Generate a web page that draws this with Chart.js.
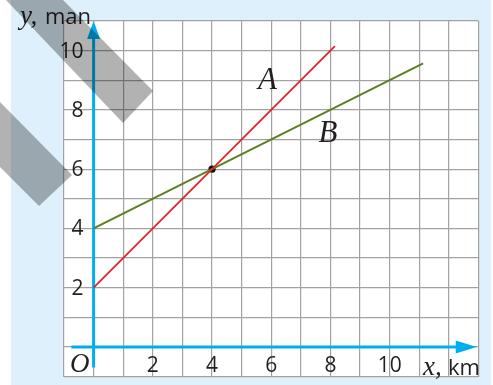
<!DOCTYPE html>
<html>
<head>
<meta charset="utf-8">
<script src="https://cdn.jsdelivr.net/npm/chart.js@4/dist/chart.umd.min.js"></script>
<style>
html,body{margin:0;padding:0;background:#fff;}
#wrap{width:493px;height:385px;position:relative;}
</style>
</head>
<body>
<div id="wrap"><canvas id="c" width="493" height="385"></canvas></div>
<script>
// ---- data ----
const lineAX = [0, 8.15];
const lineAY = [2, 10.15];
const lineBX = [0, 11.13];
const lineBY = [4, 9.57];
const meetPoint = [4, 6];
const xTickValues = [2, 4, 6, 8, 10];
const yTickValues = [2, 4, 6, 8, 10];
const xRange = [-1, 13];
const yRange = [-1, 11];
const lineLabels = ['A', 'B'];
const lineLabelPos = [[5.55, 8.7], [7.6, 6.9]];

const toPts = (xs, ys) => xs.map((x, i) => ({x: x, y: ys[i]}));

const SANS = '"Open Sans", "Noto Sans", sans-serif';
const SERIF_IT = 'italic 27px "Liberation Serif", "DejaVu Serif", serif';
const TEXT = '#231f20';
const AXIS = '#00aeef';

// decorative translucent bands (canvas pixels)
const bands = [
  [[63,0],[153,91],[123,123],[6,0]],
  [[0,102],[72,175],[39,206],[0,167]]
];

const deco = {
  id: 'deco',
  beforeDraw(chart) {
    const ctx = chart.ctx, a = chart.chartArea;
    ctx.save();
    ctx.fillStyle = '#ffffff';
    ctx.fillRect(0, 0, chart.width, chart.height);
    ctx.fillStyle = '#ddf0fb';
    ctx.fillRect(11, 0, 480, chart.height);
    ctx.fillStyle = '#ffffff';
    ctx.fillRect(a.left, a.top, a.right - a.left, a.bottom - a.top);
    ctx.restore();
  },
  beforeDatasetsDraw(chart) {
    const ctx = chart.ctx, xs = chart.scales.x, ys = chart.scales.y;
    const x0 = xs.getPixelForValue(0), y0 = ys.getPixelForValue(0);
    ctx.save();
    ctx.strokeStyle = AXIS; ctx.fillStyle = AXIS; ctx.lineWidth = 3;
    // y axis
    const yTop = ys.getPixelForValue(11);
    const yBot = ys.getPixelForValue(-0.7);
    ctx.beginPath(); ctx.moveTo(x0, yBot); ctx.lineTo(x0, yTop + 12); ctx.stroke();
    ctx.beginPath(); ctx.moveTo(x0, yTop); ctx.lineTo(x0 - 6.5, yTop + 18); ctx.lineTo(x0 + 6.5, yTop + 18); ctx.closePath(); ctx.fill();
    // x axis
    const xL = xs.getPixelForValue(-0.75);
    const xR = xs.getPixelForValue(12.94);
    ctx.beginPath(); ctx.moveTo(xL, y0); ctx.lineTo(xR - 12, y0); ctx.stroke();
    ctx.beginPath(); ctx.moveTo(xR, y0); ctx.lineTo(xR - 21, y0 - 6.5); ctx.lineTo(xR - 21, y0 + 6.5); ctx.closePath(); ctx.fill();

    // tick labels
    ctx.fillStyle = TEXT;
    ctx.font = '21px ' + SANS;
    ctx.textAlign = 'right'; ctx.textBaseline = 'middle';
    yTickValues.forEach(v => ctx.fillText(String(v), x0 - 10, ys.getPixelForValue(v) + 1));
    ctx.textAlign = 'center'; ctx.textBaseline = 'alphabetic';
    xTickValues.forEach(v => ctx.fillText(String(v), xs.getPixelForValue(v), y0 + 25));
    // origin
    ctx.font = SERIF_IT; ctx.textAlign = 'left';
    ctx.fillText('O', 70, y0 + 25);
    // axis titles
    ctx.fillText('y,', 20, 24);
    ctx.fillText('x,', 423, 375);
    ctx.font = '22px ' + SANS;
    ctx.fillText('man', 45, 24);
    ctx.fillText('km', 448, 375);
    // line labels
    ctx.font = 'italic 31px "Liberation Serif", "DejaVu Serif", serif';
    lineLabels.forEach((t, i) => ctx.fillText(t, xs.getPixelForValue(lineLabelPos[i][0]), ys.getPixelForValue(lineLabelPos[i][1])));
    ctx.restore();
  },
  afterDraw(chart) {
    const ctx = chart.ctx;
    ctx.save();
    ctx.fillStyle = 'rgba(0,0,0,0.3)';
    bands.forEach(b => {
      ctx.beginPath();
      b.forEach((p, i) => i ? ctx.lineTo(p[0], p[1]) : ctx.moveTo(p[0], p[1]));
      ctx.closePath(); ctx.fill();
    });
    ctx.restore();
  }
};

new Chart(document.getElementById('c'), {
  type: 'scatter',
  data: {
    datasets: [
      {label: 'A', data: toPts(lineAX, lineAY), showLine: true, borderColor: '#e3232b', borderWidth: 1.8, pointRadius: 0, fill: false},
      {label: 'B', data: toPts(lineBX, lineBY), showLine: true, borderColor: '#5b7f22', borderWidth: 2, pointRadius: 0, fill: false},
      {label: 'M', data: [{x: meetPoint[0], y: meetPoint[1]}], pointRadius: 3.6, pointBackgroundColor: '#111', pointBorderWidth: 0, showLine: false}
    ]
  },
  options: {
    responsive: false,
    animation: false,
    events: [],
    layout: {padding: {left: 64, top: 21, right: 14.5, bottom: 8.5}},
    plugins: {legend: {display: false}, tooltip: {enabled: false}, title: {display: false}},
    scales: {
      x: {
        type: 'linear', min: xRange[0], max: xRange[1],
        ticks: {display: false, stepSize: 1},
        grid: {color: '#a2a2a2', lineWidth: 1.2, drawTicks: false},
        border: {display: false}
      },
      y: {
        type: 'linear', min: yRange[0], max: yRange[1],
        ticks: {display: false, stepSize: 1},
        grid: {color: '#a2a2a2', lineWidth: 1.2, drawTicks: false},
        border: {display: false}
      }
    }
  },
  plugins: [deco]
});
</script>
</body>
</html>
